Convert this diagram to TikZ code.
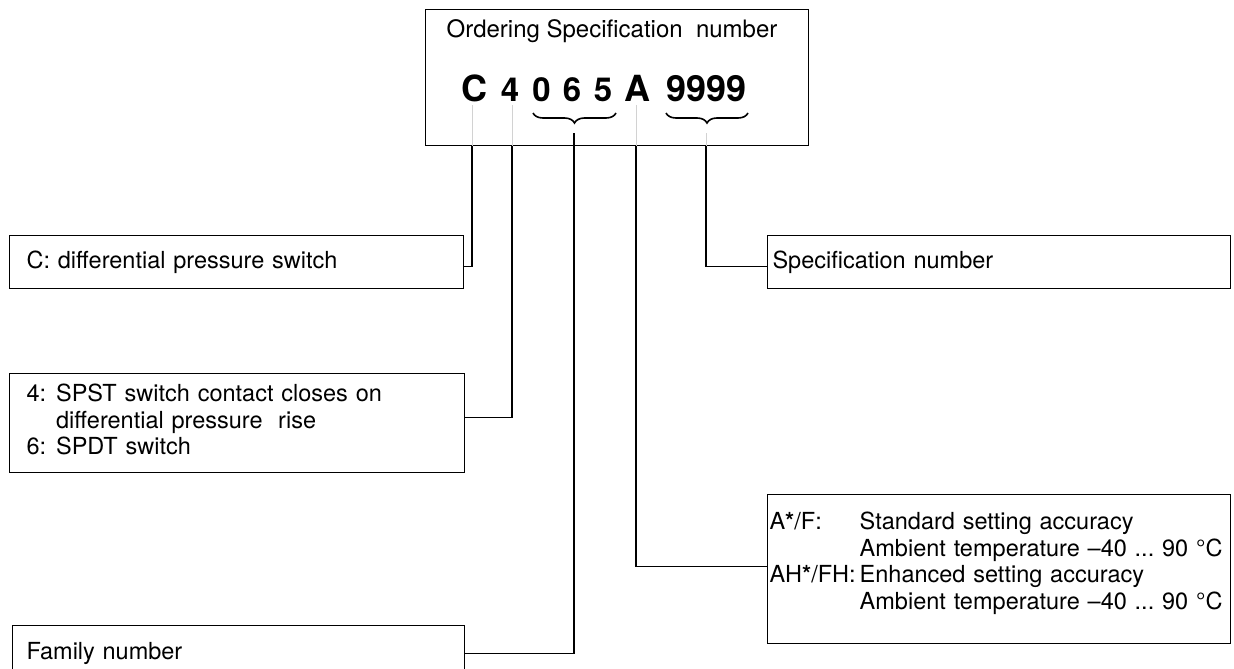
\documentclass[tikz,border=0pt]{standalone}
\usepackage{fontspec}
\setmainfont{TeX Gyre Heros}
\usetikzlibrary{decorations.pathreplacing}
\frenchspacing

\newcommand\descfont{\fontsize{23.5}{26.5}\selectfont}
\newcommand\titlefont{\fontsize{24}{28}\selectfont}
\newcommand\codefont{\fontsize{36}{40}\selectfont\bfseries}
\newcommand\digitfont{\fontsize{33}{36}\selectfont\bfseries}

\begin{document}
\begin{tikzpicture}[
        x=1pt, y=-1pt,
        descbox/.style={draw, line width=1.1pt, anchor=north west, align=left, font=\descfont, inner ysep=0pt},
        conn/.style={line width=1.1pt},
        lead/.style={line width=1pt, gray!35},
        codechar/.style={anchor=base, inner sep=0pt, font=\codefont},
        digit/.style={anchor=base, inner sep=0pt, font=\digitfont},
        brc/.style={decorate, decoration={brace, mirror, amplitude=10pt}, line width=1.6pt},
    ]
    \useasboundingbox (0,0) rectangle (1234,669);
    \clip (0,0) rectangle (1234,669);

    % ordering number box
    \node[draw, line width=1.1pt, anchor=north west, minimum width=383pt, minimum height=136pt, inner sep=0pt] (ordbox) at (425,9) {};
    \node[font=\titlefont, anchor=base, inner sep=0pt] (title) at (612,38) {Ordering Specification\ \ number};
    \node[codechar] (kC) at (474.5,101) {C};
    \foreach \d/\x in {4/510,0/541.5,6/572,5/603}
        \node[digit] (k\d) at (\x,101) {\d};
    \node[codechar] (kA) at (637,101) {A};
    \node[codechar] (k9) at (706.5,101) {9999};

    \draw[brc] (533,113) -- (616,113);
    \draw[brc] (666,113) -- (748,113);

    \coordinate (cC) at (472,105);
    \coordinate (c4) at (512,105);
    \coordinate (cFam) at (574,133);
    \coordinate (cA) at (636,105);
    \coordinate (cSpec) at (706,133);

    % description boxes
    \node[descbox, inner xsep=17pt, text width=420pt, minimum height=53pt] (cbox) at (9,235) {C: differential pressure switch};
    \node[descbox, inner xsep=17pt, text width=421pt, minimum height=99pt] (swbox) at (9,373) {%
        \begin{tabular}{@{}l@{\hspace{10pt}}l@{}}
        4: & SPST switch contact closes on\\
           & differential pressure\ \ rise\\
        6: & SPDT switch
        \end{tabular}};
    \node[descbox, inner xsep=14pt, text width=424pt, minimum height=56pt] (fambox) at (12,625) {Family number};
    \node[descbox, inner xsep=5pt, text width=453pt, minimum height=53pt] (specbox) at (767,235) {Specification number};
    \node[descbox, inner xsep=2pt, text width=459pt, minimum height=149pt] (accbox) at (767,494) {%
        \begin{tabular}{@{}l@{\hspace{4pt}}l@{}}
        A\textbf{*}/F: & Standard setting accuracy\\
                       & Ambient temperature \textendash40 ... 90 °C\\
        AH\textbf{*}/FH: & Enhanced setting accuracy\\
                       & Ambient temperature \textendash40 ... 90 °C\\[10pt]
        \end{tabular}};

    % connectors
    \foreach \c in {cC,c4,cA,cSpec}
        \draw[lead] (\c) -- (\c |- ordbox.south);
    \draw[conn] (cFam) -- (cFam |- ordbox.south);
    \draw[conn] (cC |- ordbox.south) |- ([yshift=-4.5pt]cbox.east);
    \draw[conn] (c4 |- ordbox.south) |- ([yshift=5.5pt]swbox.east);
    \draw[conn] (cFam |- ordbox.south) |- (fambox.east);
    \draw[conn] (cA |- ordbox.south) |- ([yshift=2.5pt]accbox.west);
    \draw[conn] (cSpec |- ordbox.south) |- ([yshift=-4.5pt]specbox.west);
\end{tikzpicture}
\end{document}
